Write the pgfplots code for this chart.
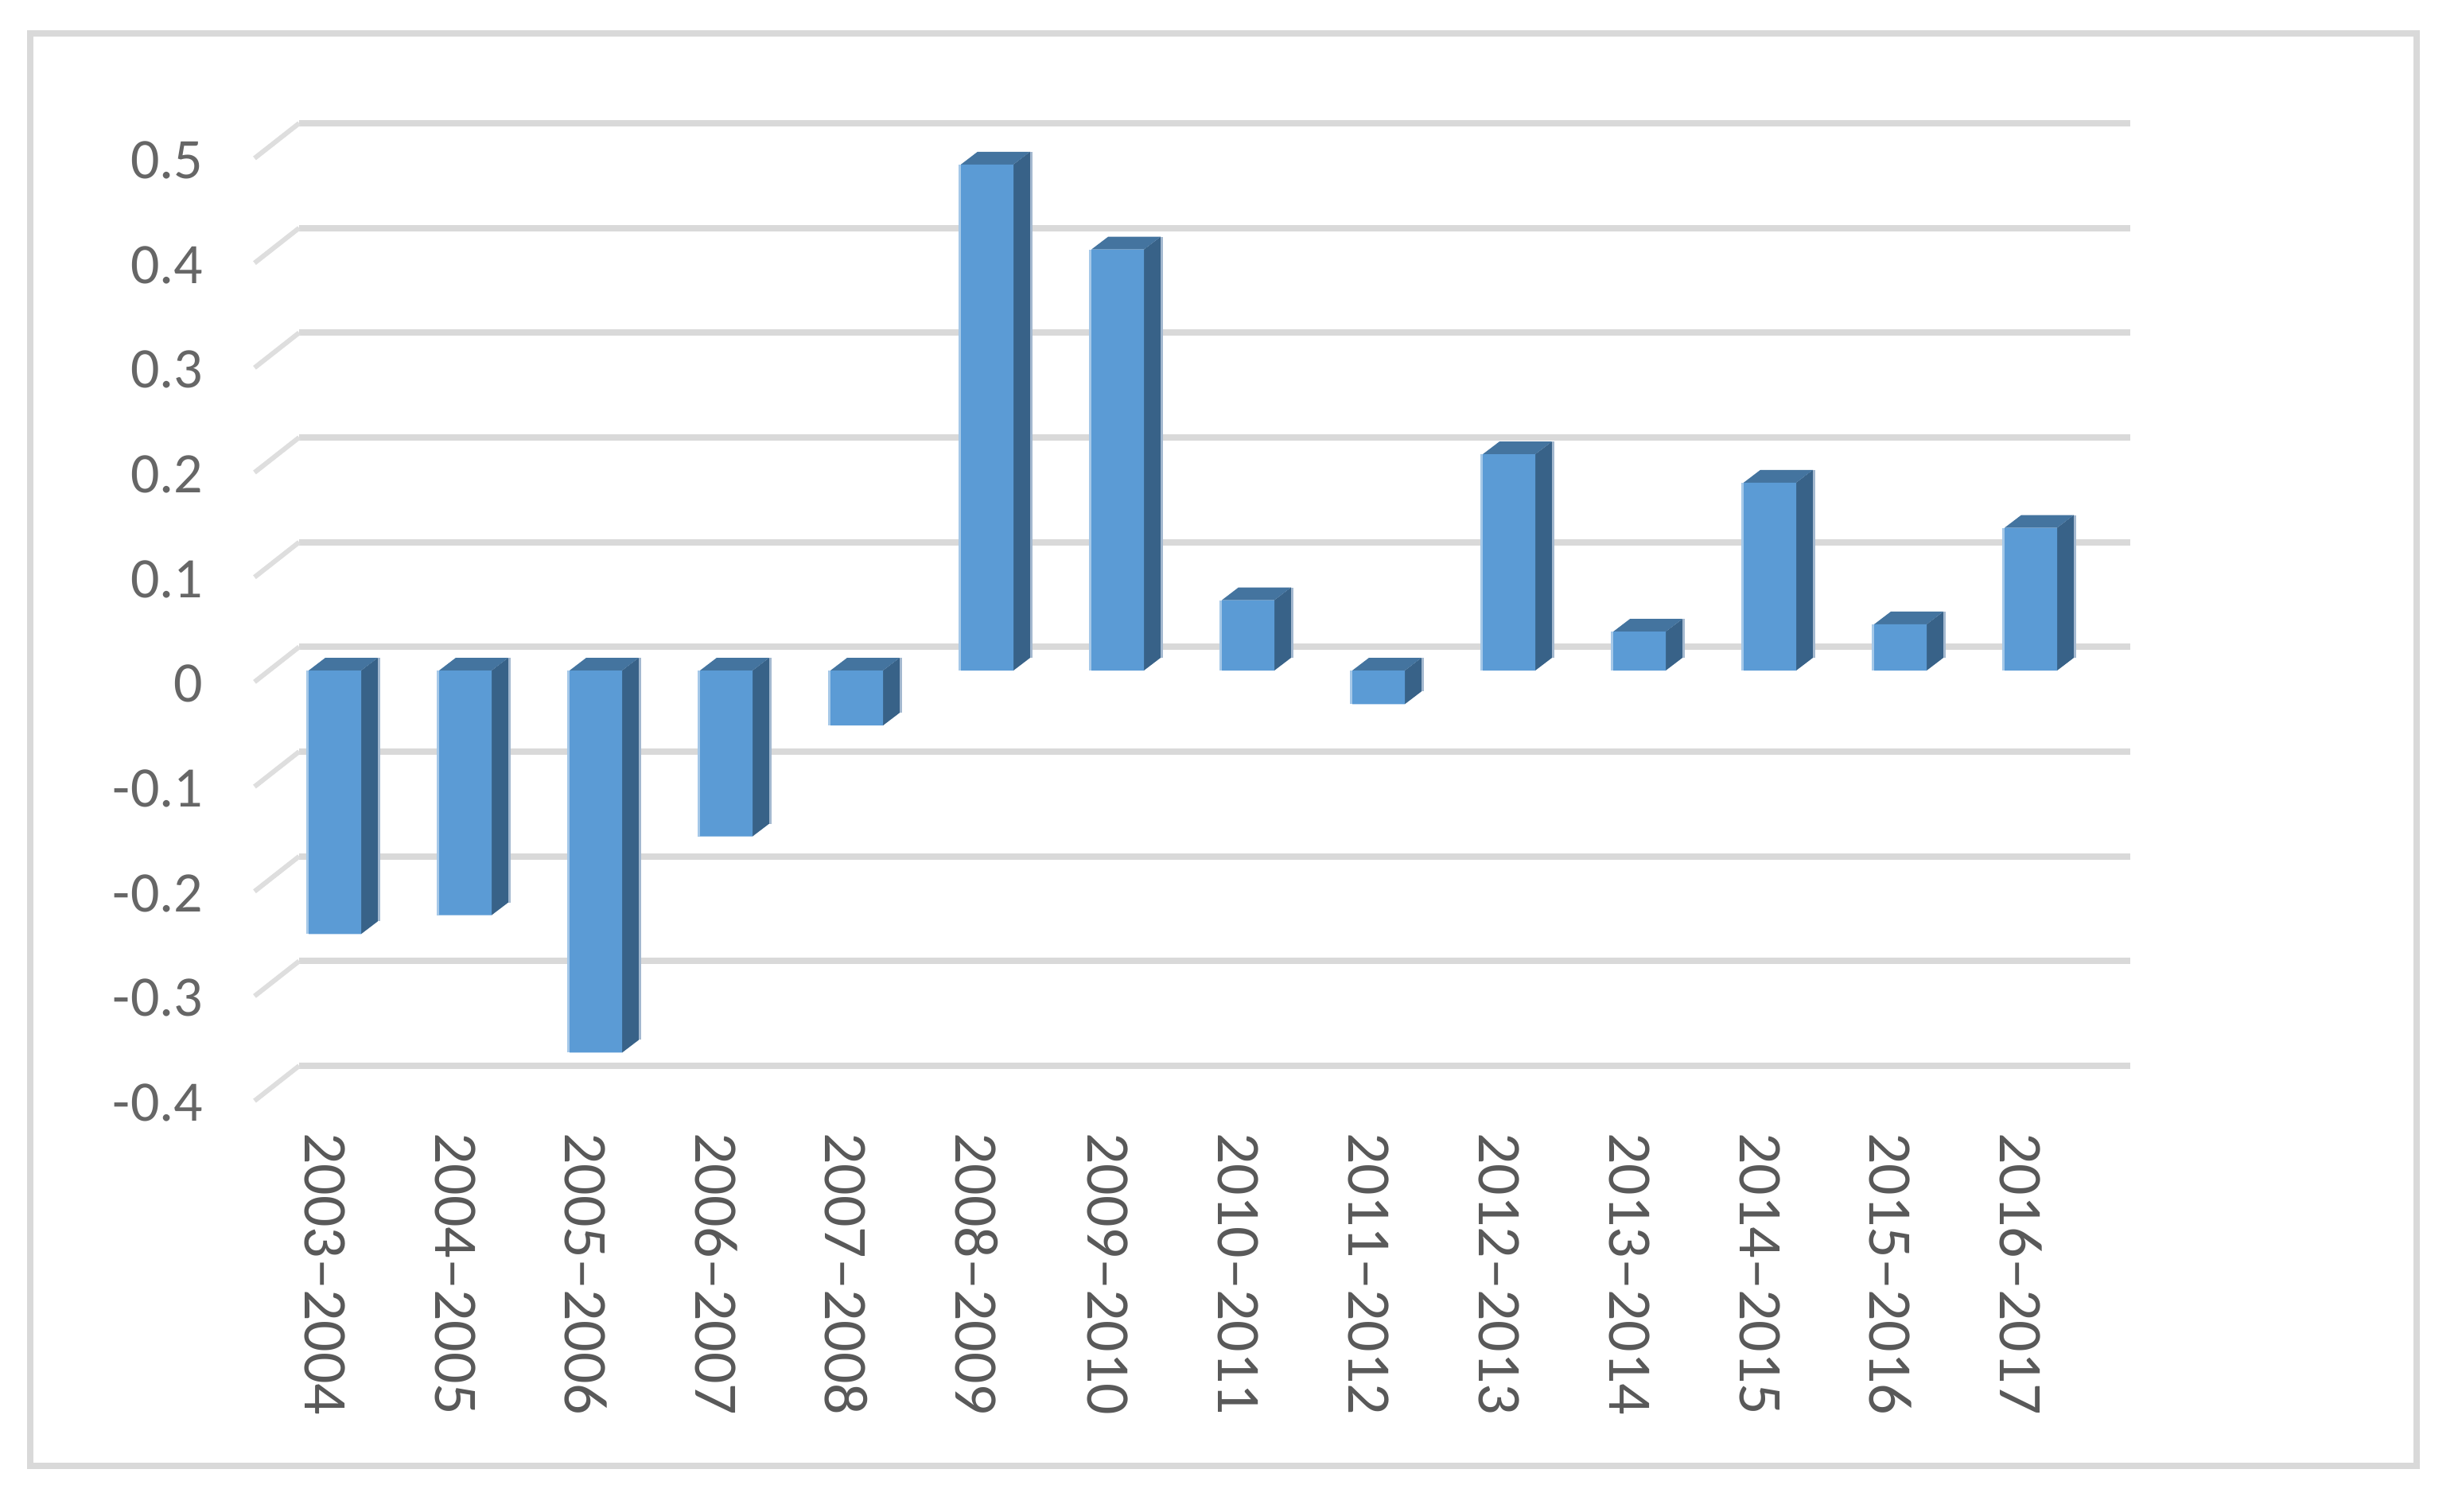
\documentclass[border=0pt]{standalone}
\usepackage{fontspec}
\setmainfont{Carlito}
\usepackage{pgfplots}
\pgfplotsset{compat=1.18}
\definecolor{gridc}{HTML}{D9D9D9}
\definecolor{stubc}{HTML}{DEDEDE}
\definecolor{frontc}{HTML}{5B9BD5}
\definecolor{sidec}{HTML}{386288}
\definecolor{topc}{HTML}{44749F}
\definecolor{edgel}{HTML}{A5C8E8}
\definecolor{edger}{HTML}{A3B8CF}
\definecolor{txt}{HTML}{595959}
\definecolor{txtl}{HTML}{666666}
% depth of a column in axis units: dx = 0.128 category, dy = 0.01215 value; half width 0.2012
\newcommand{\depthbar}[2]{%
  \pgfmathsetmacro\xl{#1-0.2012}%
  \pgfmathsetmacro\xr{#1+0.2012}%
  \pgfmathsetmacro\xlb{#1-0.2012+0.128}%
  \pgfmathsetmacro\xrb{#1+0.2012+0.128}%
  \pgfmathsetmacro\xe{#1+0.2012+0.128+0.009}%
  \pgfmathsetmacro\xh{#1-0.2012-0.009}%
  \pgfmathsetmacro\hi{max(#2,0)}%
  \pgfmathsetmacro\lo{min(#2,0)}%
  \pgfmathsetmacro\hib{max(#2,0)+0.01215}%
  \pgfmathsetmacro\lob{min(#2,0)+0.01215}%
  \edef\temp{%
    \noexpand\addplot[draw=none,fill=sidec] coordinates {(\xr,\lo)(\xrb,\lob)(\xrb,\hib)(\xr,\hi)} --cycle;
    \noexpand\addplot[draw=none,fill=topc] coordinates {(\xl,\hi)(\xr,\hi)(\xrb,\hib)(\xlb,\hib)} --cycle;
    \noexpand\addplot[edger,line width=0.75pt] coordinates {(\xe,\lob)(\xe,\hib)};
    \noexpand\addplot[edgel,line width=0.75pt] coordinates {(\xh,\lo)(\xh,\hi)};
  }\temp
}
\begin{document}
\begin{tikzpicture}
\path[use as bounding box] (0,0) rectangle (772.5pt,475pt);
\fill[white] (0,0) rectangle (772.5pt,475pt);
\draw[gridc,line width=2pt] (9.5pt,14.25pt) rectangle (759.5pt,464.5pt);
\begin{axis}[
  at={(80pt,125pt)},anchor=south west,
  scale only axis,width=595pt,height=325pt,
  xmin=-0.61585,xmax=13.8963,ymin=-0.42303,ymax=0.56429,
  clip=false,
  axis line style={draw=none},
  major tick length=0pt,
  xtick={0,1,2,3,4,5,6,7,8,9,10,11,12,13},
  xticklabels={2003--2004,2004--2005,2005--2006,2006--2007,2007--2008,2008--2009,2009--2010,2010--2011,2011--2012,2012--2013,2013--2014,2014--2015,2015--2016,2016--2017},
  xticklabel style={rotate=-90,anchor=west,inner sep=0pt,font=\fontsize{19.5}{20}\selectfont,text=txt,xshift=5.8pt,yshift=-3.2pt},
  ytick={-0.4,-0.3,-0.2,-0.1,0,0.1,0.2,0.3,0.4,0.5},
  yticklabels={-0.4,-0.3,-0.2,-0.1,0,0.1,0.2,0.3,0.4,0.5},
  yticklabel style={anchor=east,inner sep=0pt,font=\fontsize{18}{20}\selectfont,text=txtl,xshift=-16pt,yshift=-4.2pt},
]
% back-wall gridlines
\addplot[gridc,line width=2pt,unbounded coords=jump] coordinates {
 (-0.2744,0.5225)(13.762,0.5225)(nan,nan)
 (-0.2744,0.4225)(13.762,0.4225)(nan,nan)
 (-0.2744,0.3225)(13.762,0.3225)(nan,nan)
 (-0.2744,0.2225)(13.762,0.2225)(nan,nan)
 (-0.2744,0.1225)(13.762,0.1225)(nan,nan)
 (-0.2744,0.0225)(13.762,0.0225)(nan,nan)
 (-0.2744,-0.0775)(13.762,-0.0775)(nan,nan)
 (-0.2744,-0.1775)(13.762,-0.1775)(nan,nan)
 (-0.2744,-0.2775)(13.762,-0.2775)(nan,nan)
 (-0.2744,-0.3775)(13.762,-0.3775)};
% floor-side stubs
\addplot[stubc,line width=1.5pt,unbounded coords=jump] coordinates {
 (-0.6159,0.4891)(-0.2744,0.5225)(nan,nan)
 (-0.6159,0.3891)(-0.2744,0.4225)(nan,nan)
 (-0.6159,0.2891)(-0.2744,0.3225)(nan,nan)
 (-0.6159,0.1891)(-0.2744,0.2225)(nan,nan)
 (-0.6159,0.0891)(-0.2744,0.1225)(nan,nan)
 (-0.6159,-0.0109)(-0.2744,0.0225)(nan,nan)
 (-0.6159,-0.1109)(-0.2744,-0.0775)(nan,nan)
 (-0.6159,-0.2109)(-0.2744,-0.1775)(nan,nan)
 (-0.6159,-0.3109)(-0.2744,-0.2775)(nan,nan)
 (-0.6159,-0.4109)(-0.2744,-0.3775)};
% side and top faces
\depthbar{0}{-0.2516}
\depthbar{1}{-0.2336}
\depthbar{2}{-0.3649}
\depthbar{3}{-0.1584}
\depthbar{4}{-0.0525}
\depthbar{5}{0.4832}
\depthbar{6}{0.4020}
\depthbar{7}{0.0672}
\depthbar{8}{-0.0321}
\depthbar{9}{0.2065}
\depthbar{10}{0.0371}
\depthbar{11}{0.1794}
\depthbar{12}{0.0441}
\depthbar{13}{0.1363}
% front faces
\addplot[ybar,bar width=16.5pt,draw=none,fill=frontc] coordinates {
 (0,-0.2516)(1,-0.2336)(2,-0.3649)(3,-0.1584)(4,-0.0525)(5,0.4832)(6,0.4020)
 (7,0.0672)(8,-0.0321)(9,0.2065)(10,0.0371)(11,0.1794)(12,0.0441)(13,0.1363)};
\end{axis}
\end{tikzpicture}
\end{document}
